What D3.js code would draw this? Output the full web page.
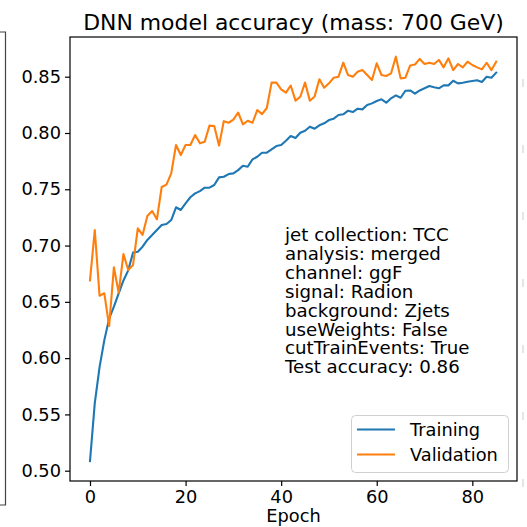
<!DOCTYPE html>
<html>
<head>
<meta charset="utf-8">
<script src="https://cdn.jsdelivr.net/npm/d3@7/dist/d3.min.js"></script>
<style>
  html, body { margin: 0; padding: 0; background: #fff; }
  svg { display: block; }
  text { font-family: "DejaVu Sans", sans-serif; fill: #000; }
</style>
</head>
<body>
<svg id="chart" width="527" height="527"></svg>
<script>
const epochs = d3.range(0, 86);
const training = [
  0.5085, 0.560, 0.592, 0.616, 0.635, 0.6457, 0.6576, 0.669, 0.678, 0.6937,
  0.6945, 0.699, 0.705, 0.7093, 0.7138, 0.7183, 0.7192, 0.7227, 0.734, 0.7316,
  0.7375, 0.7429, 0.7464, 0.7484, 0.7514, 0.7514, 0.7538, 0.7606, 0.7611, 0.7635,
  0.7641, 0.767, 0.7709, 0.770, 0.7766, 0.7789, 0.7825, 0.7825, 0.7855, 0.7884,
  0.7893, 0.7931, 0.7973, 0.7955, 0.8002, 0.802, 0.8056, 0.8038, 0.8068, 0.8086,
  0.8115, 0.8127, 0.816, 0.8166, 0.8198, 0.8186, 0.8216, 0.821, 0.8248, 0.8263,
  0.8284, 0.8299, 0.8269, 0.8308, 0.8334, 0.8313, 0.8375, 0.8378, 0.8349, 0.8378,
  0.8397, 0.8417, 0.8406, 0.8397, 0.8423, 0.8423, 0.8464, 0.8441, 0.8447, 0.8455,
  0.8462, 0.8468, 0.8453, 0.850, 0.8491, 0.8536
];
const validation = [
  0.669, 0.7138, 0.6554, 0.6576, 0.6285, 0.6807, 0.6581, 0.6925, 0.6783, 0.6827,
  0.7153, 0.7094, 0.7262, 0.7307, 0.7233, 0.752, 0.7541, 0.7641, 0.7893, 0.7804,
  0.7893, 0.7893, 0.7982, 0.7908, 0.7922, 0.8065, 0.8062, 0.7888, 0.8105, 0.8091,
  0.8118, 0.8182, 0.8077, 0.8109, 0.8091, 0.8204, 0.8168, 0.8222, 0.8447, 0.8447,
  0.8388, 0.8358, 0.8422, 0.8287, 0.8322, 0.8448, 0.8286, 0.8325, 0.8477, 0.8402,
  0.8441, 0.8491, 0.850, 0.8625, 0.8515, 0.850, 0.8544, 0.8559, 0.8515, 0.847,
  0.8619, 0.8515, 0.8506, 0.853, 0.8678, 0.8485, 0.8491, 0.8600, 0.8608, 0.8658,
  0.8613, 0.8624, 0.8613, 0.8649, 0.8583, 0.8663, 0.8559, 0.8613, 0.8583, 0.8633,
  0.8604, 0.8583, 0.8565, 0.8624, 0.8559, 0.8633
];
const xTicks = [0, 20, 40, 60, 80];
const yTicks = [0.50, 0.55, 0.60, 0.65, 0.70, 0.75, 0.80, 0.85];
const seriesNames = ["Training", "Validation"];
const seriesColors = ["#1f77b4", "#ff7f0e"];
const titleText = "DNN model accuracy (mass: 700 GeV)";
const xLabel = "Epoch";
const infoLines = [
  "jet collection: TCC",
  "analysis: merged",
  "channel: ggF",
  "signal: Radion",
  "background: Zjets",
  "useWeights: False",
  "cutTrainEvents: True",
  "Test accuracy: 0.86"
];

const svg = d3.select("#chart");
const L = 70, R = 517, T = 37, B = 481;
const FS = 17.8;

const x = d3.scaleLinear().domain([-4.185, 89.35]).range([L, R]);
const y = d3.scaleLinear().domain([0.49085, 0.88527]).range([B, T]);

// neighbouring-panel remnants at the edges
svg.append("path").attr("d", "M0,32H5.5V505H0").attr("fill", "none")
  .attr("stroke", "#444").attr("stroke-width", 1.2);
[83, 149, 216, 283, 349, 416, 483].forEach(v => {
  svg.append("rect").attr("x", 522).attr("y", v - 4).attr("width", 2).attr("height", 8)
    .attr("fill", "#e6e6e6");
});

// series
const line = d3.line().x((d, i) => x(epochs[i])).y(d => y(d));
[training, validation].forEach((s, k) => {
  svg.append("path").datum(s).attr("d", line).attr("fill", "none")
    .attr("stroke", seriesColors[k]).attr("stroke-width", 2.1)
    .attr("stroke-linejoin", "round").attr("stroke-linecap", "square");
});

// axes
const xAxis = d3.axisBottom(x).tickValues(xTicks).tickSize(5).tickPadding(4)
  .tickFormat(d3.format("d"));
const gx = svg.append("g").attr("transform", `translate(0,${B})`).call(xAxis);
gx.select(".domain").remove();
gx.selectAll("text").attr("font-size", FS).attr("font-family", "DejaVu Sans").attr("fill", "#000");
gx.selectAll("line").attr("stroke", "#000").attr("stroke-width", 1.2);

const yAxis = d3.axisLeft(y).tickValues(yTicks).tickSize(5).tickPadding(4)
  .tickFormat(d3.format(".2f"));
const gy = svg.append("g").attr("transform", `translate(${L},0)`).call(yAxis);
gy.select(".domain").remove();
gy.selectAll("text").attr("font-size", FS).attr("font-family", "DejaVu Sans").attr("fill", "#000");
gy.selectAll("line").attr("stroke", "#000").attr("stroke-width", 1.2);

// frame
svg.append("rect").attr("x", L).attr("y", T).attr("width", R - L).attr("height", B - T)
  .attr("fill", "none").attr("stroke", "#000").attr("stroke-width", 1.2);

// title and label
svg.append("text").attr("x", (L + R) / 2).attr("y", 30).attr("text-anchor", "middle")
  .attr("font-size", 21.9).text(titleText);
svg.append("text").attr("x", (L + R) / 2).attr("y", 522).attr("text-anchor", "middle")
  .attr("font-size", FS).text(xLabel);

// info text block
const info = svg.append("text").attr("x", 285).attr("y", 241).attr("font-size", 18.2);
infoLines.forEach((t, i) => {
  info.append("tspan").attr("x", 285).attr("y", 241 + i * 18.9).text(t);
});

// legend
const lg = svg.append("g");
lg.append("rect").attr("x", 351.5).attr("y", 415.5).attr("width", 157).attr("height", 57)
  .attr("rx", 4).attr("fill", "#fff").attr("fill-opacity", 0.8)
  .attr("stroke", "#d0d0d0").attr("stroke-width", 1);
seriesNames.forEach((n, i) => {
  const yy = 429.5 + i * 25;
  lg.append("line").attr("x1", 357).attr("x2", 395).attr("y1", yy).attr("y2", yy)
    .attr("stroke", seriesColors[i]).attr("stroke-width", 2.1);
  lg.append("text").attr("x", 410).attr("y", yy + 6.3).attr("font-size", FS).text(n);
});
</script>
</body>
</html>
